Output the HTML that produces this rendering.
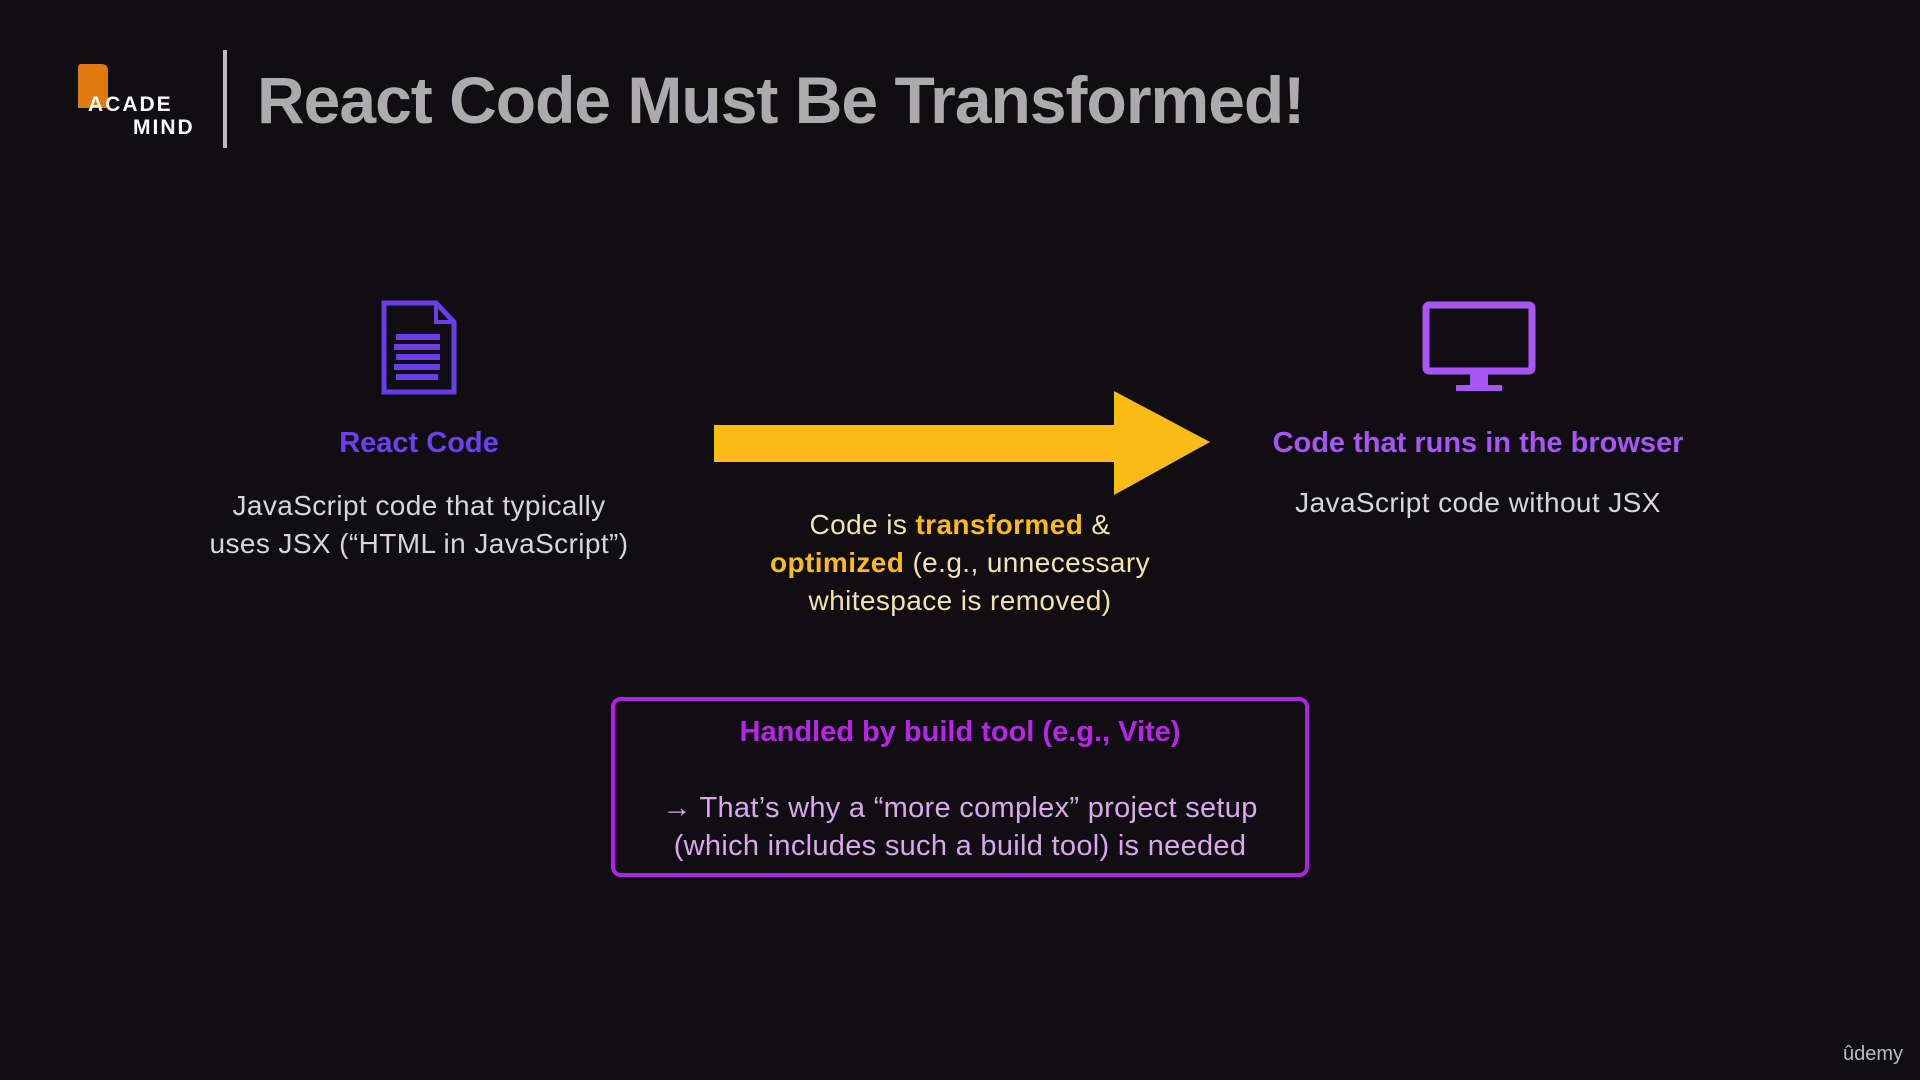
<!DOCTYPE html>
<html><head><meta charset="utf-8"><style>
body{margin:0;width:1920px;height:1080px;background:#100e13;overflow:hidden;position:relative;font-family:"Liberation Sans",sans-serif;}
.a{position:absolute;white-space:nowrap;}
.c{transform:translateX(-50%);text-align:center;}
</style></head><body>
<!-- logo -->
<div class="a" style="left:78px;top:64px;width:30px;height:44px;background:#e07a10;border-radius:3px 6px 0 0;"></div>
<div class="a" style="left:88px;top:93px;font-size:21px;font-weight:bold;color:#fff;letter-spacing:2px;">ACADE</div>
<div class="a" style="left:133px;top:116px;font-size:21px;font-weight:bold;color:#fff;letter-spacing:2px;">MIND</div>
<div class="a" style="left:223px;top:50px;width:4px;height:98px;background:#bbb;"></div>
<div class="a" style="left:257px;top:62px;font-size:66px;font-weight:bold;color:#ababab;letter-spacing:-1px;">React Code Must Be Transformed!</div>

<!-- doc icon -->
<svg class="a" style="left:380px;top:300px" width="78" height="96" viewBox="0 0 78 96">
<path d="M4 3 H56 L74 22 V92 H4 Z" fill="none" stroke="#6a3de8" stroke-width="5"/>
<path d="M56 3 V22 H74" fill="none" stroke="#6a3de8" stroke-width="4"/>
<g fill="#6a3de8"><rect x="16" y="34" width="44" height="6"/><rect x="14" y="44" width="46" height="6"/><rect x="16" y="54" width="44" height="6"/><rect x="14" y="64" width="46" height="6"/><rect x="16" y="74" width="42" height="6"/></g>
</svg>
<div class="a c" style="left:419px;top:427px;font-size:29px;font-weight:bold;color:#6e3ff0;">React Code</div>
<div class="a c" style="left:419px;top:487px;font-size:28px;color:#d6d6d6;line-height:38px;letter-spacing:0.4px;">JavaScript code that typically<br>uses JSX (“HTML in JavaScript”)</div>

<!-- arrow -->
<svg class="a" style="left:712px;top:389px" width="502" height="110">
<polygon points="2,36 402,36 402,2 498,53 402,106 402,73 2,73" fill="#fdbb1a"/>
</svg>
<div class="a c" style="left:960px;top:506px;font-size:28px;color:#f3e2b0;line-height:38px;letter-spacing:0.4px;">Code is <b style="color:#fdbb1a">transformed</b> &amp;<br><b style="color:#fdbb1a">optimized</b> (e.g., unnecessary<br>whitespace is removed)</div>

<!-- monitor -->
<svg class="a" style="left:1422px;top:301px" width="114" height="94">
<rect x="4" y="4" width="106" height="66" rx="3" fill="none" stroke="#a855f7" stroke-width="7"/>
<rect x="48" y="71" width="18" height="14" fill="#a855f7"/>
<rect x="34" y="84" width="46" height="6" fill="#a855f7"/>
</svg>
<div class="a c" style="left:1478px;top:427px;font-size:29px;font-weight:bold;color:#a855f7;">Code that runs in the browser</div>
<div class="a c" style="left:1478px;top:487px;font-size:28px;color:#d6d6d6;letter-spacing:0.4px;">JavaScript code without JSX</div>

<!-- box -->
<div class="a" style="left:611px;top:697px;width:690px;height:172px;border:4px solid #b21fe6;border-radius:10px;"></div>
<div class="a c" style="left:960px;top:716px;font-size:29px;font-weight:bold;color:#b824e8;">Handled by build tool (e.g., Vite)</div>
<div class="a c" style="left:960px;top:789px;font-size:29px;color:#dca6ee;line-height:38px;letter-spacing:0.3px;">→ That’s why a “more complex” project setup<br>(which includes such a build tool) is needed</div>

<div class="a" style="left:1843px;top:1043px;font-size:20px;color:#bbb;">ûdemy</div>
</body></html>
